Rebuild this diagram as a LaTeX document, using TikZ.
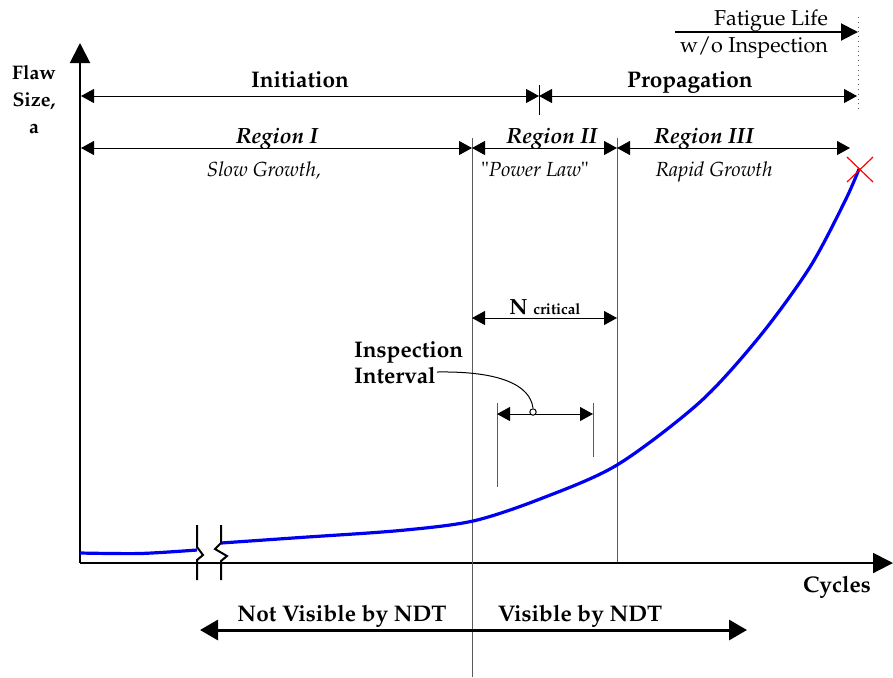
\documentclass[tikz,border=0pt]{standalone}
\usepackage[T1]{fontenc}
\usepackage{mathpazo}
\usepackage{tikz}
\usetikzlibrary{arrows.meta,positioning,calc}
\definecolor{cblue}{RGB}{0,0,240}
\definecolor{cgray}{RGB}{90,90,90}
\tikzset{
  axis/.style   ={line width=1pt, -{Triangle[length=10pt,width=10pt]}},
  dim/.style    ={line width=0.5pt, {Triangle[length=6.5pt,width=7pt]}-{Triangle[length=6.5pt,width=7pt]}},
  guide/.style  ={line width=0.5pt, draw=cgray},
  brk/.style    ={line width=1pt},
  growth/.style ={line width=1.6pt, draw=cblue},
  big/.style    ={font=\fontsize{11.3}{13}\selectfont\bfseries},
  reg/.style    ={font=\fontsize{11}{12}\selectfont\bfseries\itshape},
  sub/.style    ={font=\fontsize{10.2}{11}\selectfont\itshape},
  lbl/.style    ={font=\fontsize{10.8}{13}\selectfont}
}
\begin{document}
\begin{tikzpicture}[x=0.5pt,y=-0.5pt]
\useasboundingbox (0,0) rectangle (893,677);

% axes
\coordinate (O) at (80,563);
\coordinate (ytop) at (80,43);
\coordinate (xend) at (893,563);
\draw[axis] (O) -- (ytop);
\draw[axis] (O) -- (xend);
\node[font=\fontsize{9.8}{13.5}\selectfont\bfseries, align=center, anchor=base] (flaw) at (34,133)
  {Flaw\\Size,\\a};
\node[big, anchor=base] (cycles) at (837,592) {Cycles};

% region boundaries
\coordinate (b2top) at (472,138);
\coordinate (b2bot) at (472,677);
\coordinate (b3top) at (617,138);
\coordinate (b3bot) at (617,562);
\draw[guide] (b2top) -- (b2bot);
\draw[guide] (b3top) -- (b3bot);

% fatigue life
\coordinate (fl0) at (675,32);
\coordinate (fl1) at (858,32);
\draw[line width=1pt, -{Triangle[length=8.5pt,width=8.5pt]}] (fl0) -- (fl1);
\node[lbl, anchor=base east] (fatigue) at (835,25) {Fatigue Life};
\node[lbl, anchor=base east] (woinsp) at (835,52) {w/o Inspection};
\draw[cgray, dotted] (858,17) -- (858,112);

% initiation / propagation
\coordinate (ini0) at (81,96);
\coordinate (split) at (539,96);
\coordinate (pro1) at (857,96);
\draw[dim] (ini0) -- (split);
\draw[dim] (split) -- (pro1);
\draw[line width=0.5pt] (539,85) -- (539,115);
\node[big, anchor=base] (initiation) at (300,87) {Initiation};
\node[big, anchor=base] (propagation) at (690,87) {Propagation};

% regions
\coordinate (r0) at (81,148);
\coordinate (r1) at (472,148);
\coordinate (r2) at (617,148);
\coordinate (r3) at (850,148);
\draw[dim] (r0) -- (r1);
\draw[dim] (r1) -- (r2);
\draw[dim] (r2) -- (r3);
\node[reg, anchor=base] (reg1) at (277,143) {Region I};
\node[reg, anchor=base] (reg2) at (552,143) {Region II};
\node[reg, anchor=base] (reg3) at (704,143) {Region III};
\node[sub, anchor=base] (slow) at (264,176) {Slow Growth,};
\node[sub, anchor=base] (power) at (535,176) {\textup{\textquotedbl}Power Law\textup{\textquotedbl}};
\node[sub, anchor=base] (rapid) at (714,176) {Rapid Growth};

% N critical
\coordinate (nc0) at (472,318);
\coordinate (nc1) at (617,318);
\draw[dim] (nc0) -- (nc1);
\node[anchor=base] (ncrit) at (545,314)
  {\fontsize{11}{12}\selectfont\bfseries N \fontsize{7.6}{8}\selectfont critical};

% inspection interval
\draw[guide] (497,403) -- (497,487);
\draw[guide] (593,403) -- (593,457);
\coordinate (ii0) at (497,414);
\coordinate (ii1) at (593,414);
\draw[dim] (ii0) -- (ii1);
\node[big, align=left, anchor=base west] (insp) at (347,383) {Inspection\\Interval};
\coordinate (lead) at (437,372);
\draw[line width=0.5pt] (lead) .. controls (500,371) and (530,385) .. (533,408);
\node[circle, draw, line width=0.5pt, fill=white, inner sep=0pt, minimum size=3.2pt] (dot) at (533,412) {};

% growth curve
\draw[growth] plot[smooth] coordinates {(80,553) (140,553.5) (197,550)};
\draw[growth] plot[smooth] coordinates {(221,543) (300,537.5) (400,530.5) (473,521)
  (540,499) (617,465) (700,402) (760,336) (810,267) (845,201) (859,169)};

% axis break
\draw[brk] (197,525) -- (197,547) -- (203,555) -- (197,560) -- (197,580);
\draw[brk] (221,525) -- (221,543) -- (215,549) -- (227,556) -- (221,561) -- (221,580);

% failure
\draw[red, line width=0.6pt] (847,157) -- (873,182);
\draw[red, line width=0.6pt] (847,182) -- (873,157);

% NDT
\coordinate (ndt0) at (200,630);
\coordinate (ndt1) at (747,630);
\draw[line width=1.5pt, {Triangle[length=9pt,width=10pt]}-{Triangle[length=9pt,width=10pt]}] (ndt0) -- (ndt1);
\node[big, anchor=base] (notvis) at (342,621) {Not Visible by NDT};
\node[big, anchor=base] (vis) at (580,621) {Visible by NDT};
\end{tikzpicture}
\end{document}
